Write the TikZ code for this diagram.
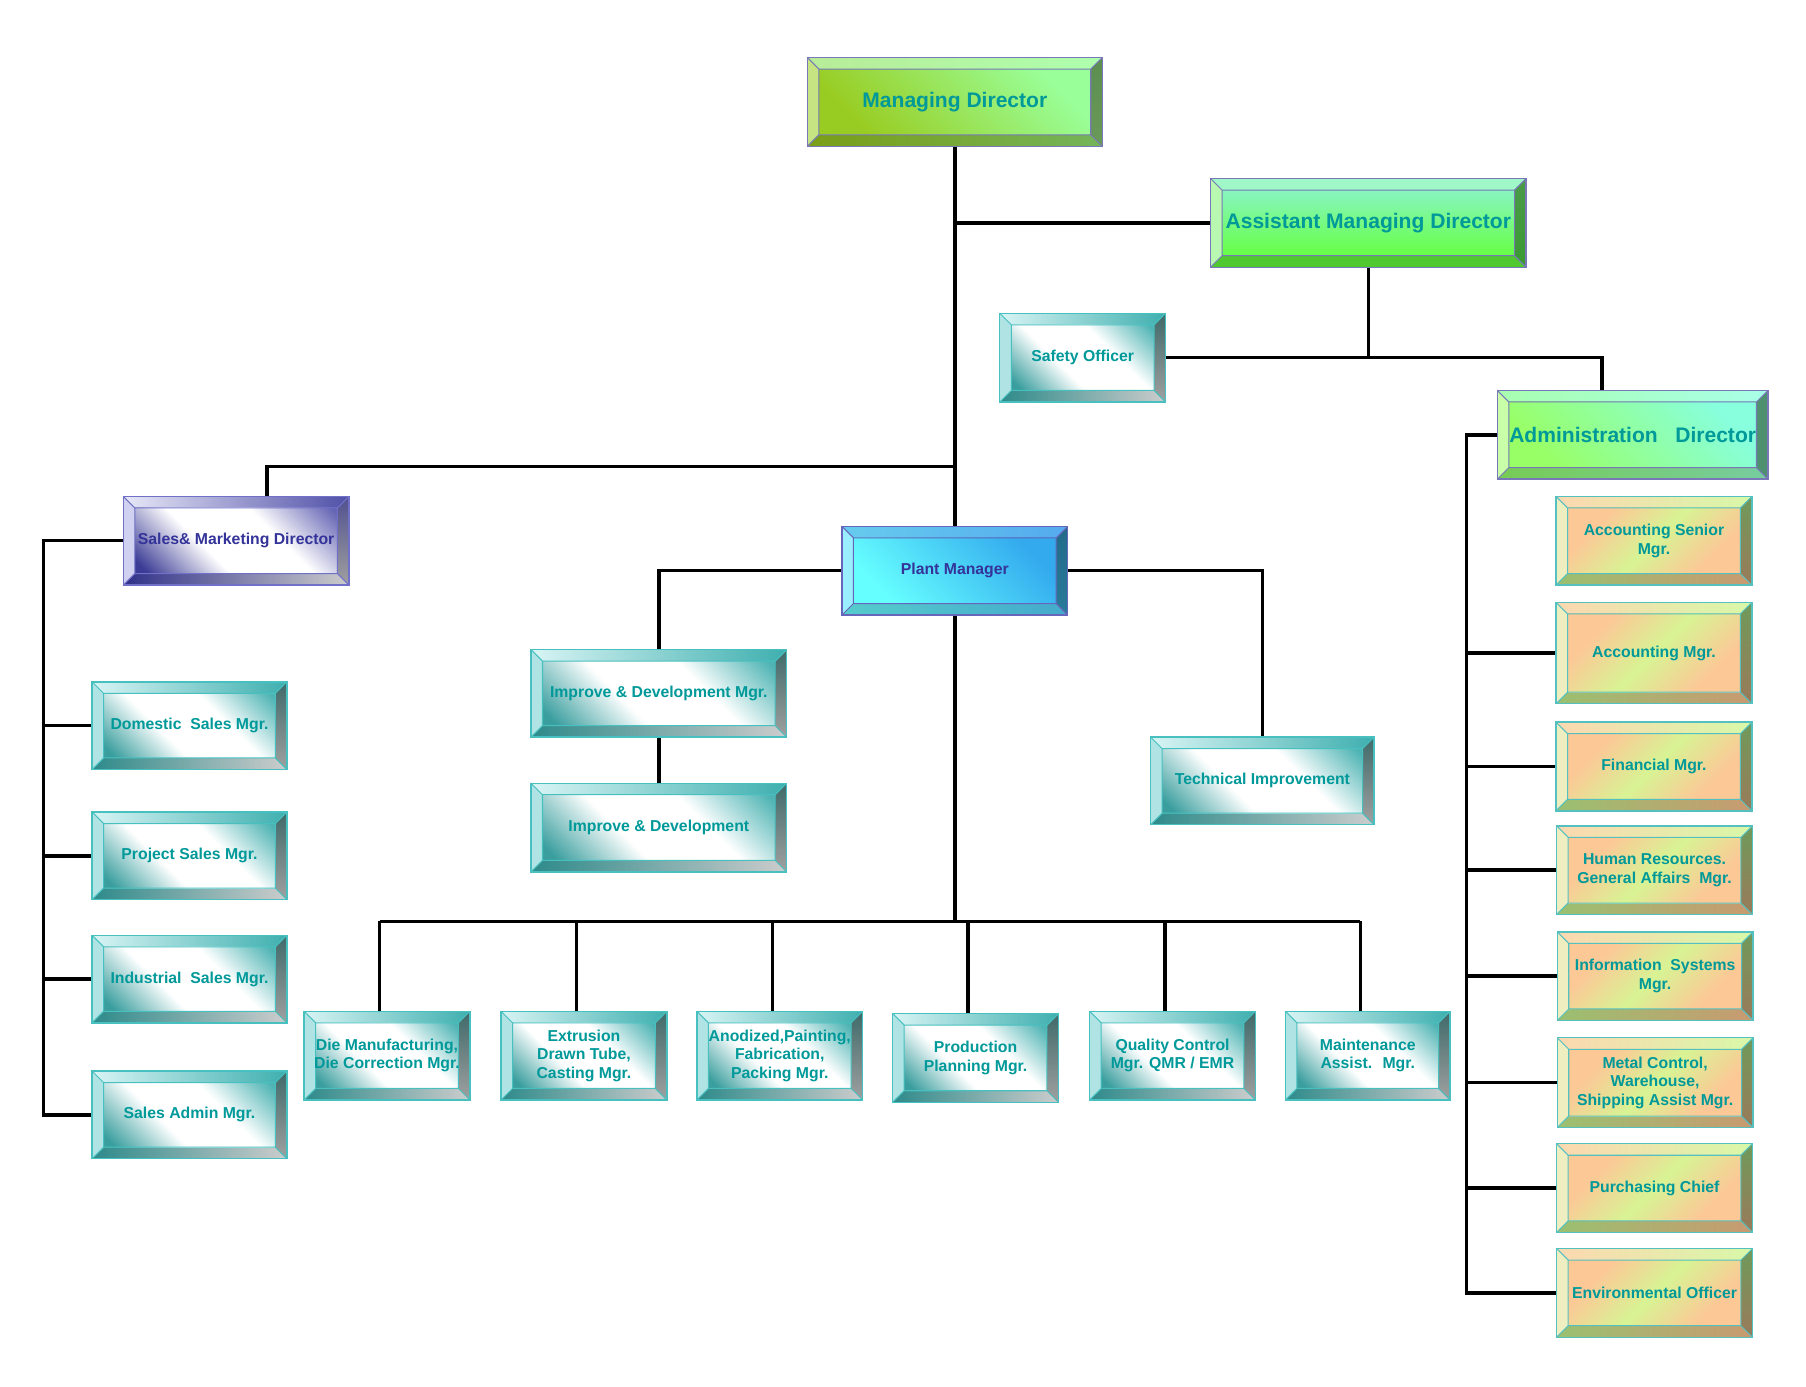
\documentclass[tikz,border=0pt]{standalone}
\usepackage{fontspec}
\setmainfont{Liberation Sans}
\usepackage{xcolor}
\usepackage{tikz}
\usetikzlibrary{calc,positioning,backgrounds}

\definecolor{mdTa}{HTML}{B8EC98}\definecolor{mdTb}{HTML}{AEFFAE}\definecolor{mdL}{HTML}{C6E482}
\definecolor{mdRa}{HTML}{5B8E50}\definecolor{mdRb}{HTML}{6A9A58}\definecolor{mdBa}{HTML}{7A9E16}
\definecolor{mdBb}{HTML}{74B45A}\definecolor{mdFa}{HTML}{99CC22}\definecolor{mdFb}{HTML}{99FF99}
\definecolor{mdD}{HTML}{7878B8}\definecolor{mdX}{HTML}{009999}

\definecolor{amdTa}{HTML}{A0F8C8}\definecolor{amdTb}{HTML}{A0F8C8}\definecolor{amdL}{HTML}{B8F8B0}
\definecolor{amdRa}{HTML}{4A9A4A}\definecolor{amdRb}{HTML}{3A9A30}\definecolor{amdBa}{HTML}{50C830}
\definecolor{amdBb}{HTML}{50C830}\definecolor{amdFa}{HTML}{88F5C0}\definecolor{amdFb}{HTML}{66FF44}
\definecolor{amdD}{HTML}{7878B8}\definecolor{amdX}{HTML}{009999}

\definecolor{admTa}{HTML}{A8FFB0}\definecolor{admTb}{HTML}{A8FFE8}\definecolor{admL}{HTML}{C8FFA8}
\definecolor{admRa}{HTML}{4E9070}\definecolor{admRb}{HTML}{4E9070}\definecolor{admBa}{HTML}{77CC55}
\definecolor{admBb}{HTML}{77CCA0}\definecolor{admFa}{HTML}{99FF66}\definecolor{admFb}{HTML}{88FFDD}
\definecolor{admD}{HTML}{7878B8}\definecolor{admX}{HTML}{009999}

\definecolor{tlTa}{HTML}{D8F4F4}\definecolor{tlTb}{HTML}{3FAFAF}\definecolor{tlL}{HTML}{B0E4E4}
\definecolor{tlRa}{HTML}{3F6A6A}\definecolor{tlRb}{HTML}{A0A0A0}\definecolor{tlBa}{HTML}{2E8A8A}
\definecolor{tlBb}{HTML}{CCCCCC}\definecolor{tlFa}{HTML}{3A9E9E}\definecolor{tlFb}{HTML}{4DB3B3}
\definecolor{tlD}{HTML}{48C0C0}\definecolor{tlX}{HTML}{009999}

\definecolor{smTa}{HTML}{E8E8F8}\definecolor{smTb}{HTML}{5050A8}\definecolor{smL}{HTML}{D0D0F0}
\definecolor{smRa}{HTML}{505090}\definecolor{smRb}{HTML}{A0A0A0}\definecolor{smBa}{HTML}{30308A}
\definecolor{smBb}{HTML}{CCCCCC}\definecolor{smFa}{HTML}{3C3C96}\definecolor{smFb}{HTML}{6464B4}
\definecolor{smD}{HTML}{7070C8}\definecolor{smX}{HTML}{333399}

\definecolor{pmTa}{HTML}{66CCEE}\definecolor{pmTb}{HTML}{55AAEE}\definecolor{pmL}{HTML}{99EEFF}
\definecolor{pmRa}{HTML}{226A8A}\definecolor{pmRb}{HTML}{2A7A9A}\definecolor{pmBa}{HTML}{55CCCC}
\definecolor{pmBb}{HTML}{44AACC}\definecolor{pmFa}{HTML}{66FFFF}\definecolor{pmFb}{HTML}{33AAEE}
\definecolor{pmD}{HTML}{6666BB}\definecolor{pmX}{HTML}{333399}

\definecolor{orTa}{HTML}{FCD8B0}\definecolor{orTb}{HTML}{D8F8A8}\definecolor{orL}{HTML}{EEEEC0}
\definecolor{orRa}{HTML}{6F9A5A}\definecolor{orRb}{HTML}{9A7A5A}\definecolor{orBa}{HTML}{9AC070}
\definecolor{orBb}{HTML}{C89A70}\definecolor{orFa}{HTML}{FCC896}\definecolor{orFm}{HTML}{D8F394}
\definecolor{orD}{HTML}{55C0C0}\definecolor{orX}{HTML}{009999}

\pgfdeclarehorizontalshading{mdface}{100bp}{color(0bp)=(mdFa); color(25bp)=(mdFa); color(75bp)=(mdFb); color(100bp)=(mdFb)}
\pgfdeclarehorizontalshading{amdface}{100bp}{color(0bp)=(amdFa); color(25bp)=(amdFa); color(75bp)=(amdFb); color(100bp)=(amdFb)}
\pgfdeclarehorizontalshading{admface}{100bp}{color(0bp)=(admFa); color(25bp)=(admFa); color(75bp)=(admFb); color(100bp)=(admFb)}
\pgfdeclarehorizontalshading{pmface}{100bp}{color(0bp)=(pmFa); color(25bp)=(pmFa); color(75bp)=(pmFb); color(100bp)=(pmFb)}
\pgfdeclarehorizontalshading{tlface}{100bp}{color(0bp)=(tlFa); color(18bp)=(tlFa); color(40bp)=(white); color(62bp)=(white); color(84bp)=(tlFb); color(100bp)=(tlFb)}
\pgfdeclarehorizontalshading{smface}{100bp}{color(0bp)=(smFa); color(18bp)=(smFa); color(40bp)=(white); color(62bp)=(white); color(84bp)=(smFb); color(100bp)=(smFb)}
\pgfdeclarehorizontalshading{orface}{100bp}{color(0bp)=(orFa); color(28bp)=(orFa); color(50bp)=(orFm); color(72bp)=(orFa); color(100bp)=(orFa)}

\tikzset{
  box/.style 2 args={rectangle, inner sep=1pt, draw=#1D, line width=0.7pt, text=#1X, align=center,
    path picture={
      \coordinate (psw) at (path picture bounding box.south west);
      \coordinate (pne) at (path picture bounding box.north east);
      \coordinate (qsw) at ($(psw)+(2mm,2mm)$);
      \coordinate (qne) at ($(pne)-(2mm,2mm)$);
      \shade[left color=#1Ta, right color=#1Tb] (psw|-pne) -- (pne) -- (qne) -- (qsw|-qne) -- cycle;
      \shade[left color=#1Ba, right color=#1Bb] (psw) -- (pne|-psw) -- (qne|-qsw) -- (qsw) -- cycle;
      \fill[#1L] (psw) -- (qsw) -- (qsw|-qne) -- (psw|-pne) -- cycle;
      \shade[top color=#1Ra, bottom color=#1Rb] (pne|-psw) -- (qne|-qsw) -- (qne) -- (pne) -- cycle;
      \shade[shading=#1face, shading angle=#2] (qsw) rectangle (qne);
      \draw[#1D, line width=0.5pt] (qsw) rectangle (qne) (psw) -- (qsw) (pne) -- (qne)
        (psw|-pne) -- (qsw|-qne) (pne|-psw) -- (qne|-qsw);
    }},
  wh/.style 2 args={minimum width=#1*0.2mm, minimum height=#2*0.2mm},
  big/.style={font=\fontsize{10.4}{12}\selectfont\bfseries},
  small/.style={font=\fontsize{7.8}{9.2}\selectfont\bfseries},
  tealbox/.style={box={tl}{45}, small, wh={144}{77}},
  orbox/.style={box={or}{-45}, small, wh={170}{77}},
  link/.style={line width=1.7pt, black}
}

\begin{document}
\begin{tikzpicture}[x=0.2mm, y=-0.2mm]
  \useasboundingbox (0,0) rectangle (1568,1204);
  \node[box={md}{45}, big, wh={256}{77}] (md) at (829,88.5) {Managing Director};
  \node[box={amd}{-90}, big, wh={274}{77}] (amd) at (1188,193.5) {Assistant Managing Director};
  \node[tealbox] (safety) at (940,310.5) {Safety Officer};
  \node[box={adm}{45}, big, wh={235}{77}] (admin) at (1417.5,377.5) {Administration~~~Director};
  \node[box={sm}{45}, small, wh={196}{77}] (sales) at (205,469.5) {Sales\& Marketing Director};
  \node[box={pm}{45}, small, wh={196}{77}] (plant) at (829,495.5) {Plant Manager};
  \node[tealbox, wh={222}{76}] (idmgr) at (572,602) {Improve \& Development Mgr.};
  \node[tealbox, wh={222}{77}] (id) at (572,718.5) {Improve \& Development};
  \node[tealbox, wh={194}{76}] (tech) at (1096,678) {Technical Improvement};

  \node[tealbox, wh={169}{76}] (domestic) at (164.5,630) {Domestic~ Sales Mgr.};
  \node[tealbox, wh={169}{76}] (project) at (164.5,743) {Project Sales Mgr.};
  \node[tealbox, wh={169}{76}] (industrial) at (164.5,850) {Industrial~ Sales Mgr.};
  \node[tealbox, wh={169}{76}] (salesadmin) at (164.5,968) {Sales Admin Mgr.};

  \node[tealbox] (die) at (336,916.5) {Die Manufacturing,\\Die Correction Mgr.};
  \node[tealbox] (extrusion) at (507,916.5) {Extrusion\\Drawn Tube,\\Casting Mgr.};
  \node[tealbox] (anodized) at (677,916.5) {Anodized,Painting,\\Fabrication,\\Packing Mgr.};
  \node[tealbox] (production) at (847,918.5) {Production\\Planning Mgr.};
  \node[tealbox] (qc) at (1018,916.5) {Quality Control\\Mgr. QMR / EMR};
  \node[tealbox, wh={143}{77}] (maint) at (1187.5,916.5) {Maintenance\\Assist.~ Mgr.};

  \node[orbox] (accsenior) at (1436,469.5) {Accounting Senior\\Mgr.};
  \node[orbox, wh={170}{88}] (acc) at (1436,567) {Accounting Mgr.};
  \node[orbox] (fin) at (1436,665.5) {Financial Mgr.};
  \node[orbox] (hr) at (1436.5,755.5) {Human Resources.\\General Affairs~ Mgr.};
  \node[orbox] (info) at (1437,847.5) {Information~ Systems\\Mgr.};
  \node[orbox, wh={170}{78}] (metal) at (1437,940) {Metal Control,\\Warehouse,\\Shipping Assist Mgr.};
  \node[orbox] (purch) at (1436.5,1031.5) {Purchasing Chief};
  \node[orbox] (env) at (1436.5,1122.5) {Environmental Officer};

  \coordinate (salesjoint) at (829,405);
  \coordinate (salesleft) at (38,0);
  \coordinate (admleft) at (1273,0);
  \coordinate (bus) at (829,800);
  \begin{scope}[on background layer]
    \draw[link] (md.south) -- (plant.north);
    \draw[link] (amd.west) -- (amd.west -| md.south);
    \draw[link] (amd.south) -- (amd.south |- safety.east);
    \draw[link] (safety.east) -| ([xshift=-5.3mm]admin.north);
    \draw[link] (salesjoint) -| ([xshift=5.4mm]sales.north);
    \draw[link] (sales.west) -- (sales.west -| salesleft) |- (salesadmin.west);
    \foreach \n in {domestic,project,industrial}
      \draw[link] (\n.west) -- (\n.west -| salesleft);
    \draw[link] (plant.west) -| (idmgr.north);
    \draw[link] (idmgr.south) -- (id.north);
    \draw[link] (plant.east) -| (tech.north);
    \draw[link] (plant.south) -- (bus);
    \draw[link] ([xshift=-1.3mm]die.north |- bus) -- ([xshift=-1.3mm]maint.north |- bus);
    \foreach \n in {die,extrusion,anodized,production,qc,maint}
      \draw[link] ([xshift=-1.3mm]\n.north |- bus) -- ([xshift=-1.3mm]\n.north);
    \draw[link] (admin.west) -- (admin.west -| admleft) |- (env.west);
    \foreach \n in {acc,fin,hr,info,metal,purch}
      \draw[link] (\n.west) -- (\n.west -| admleft);
  \end{scope}
\end{tikzpicture}
\end{document}
